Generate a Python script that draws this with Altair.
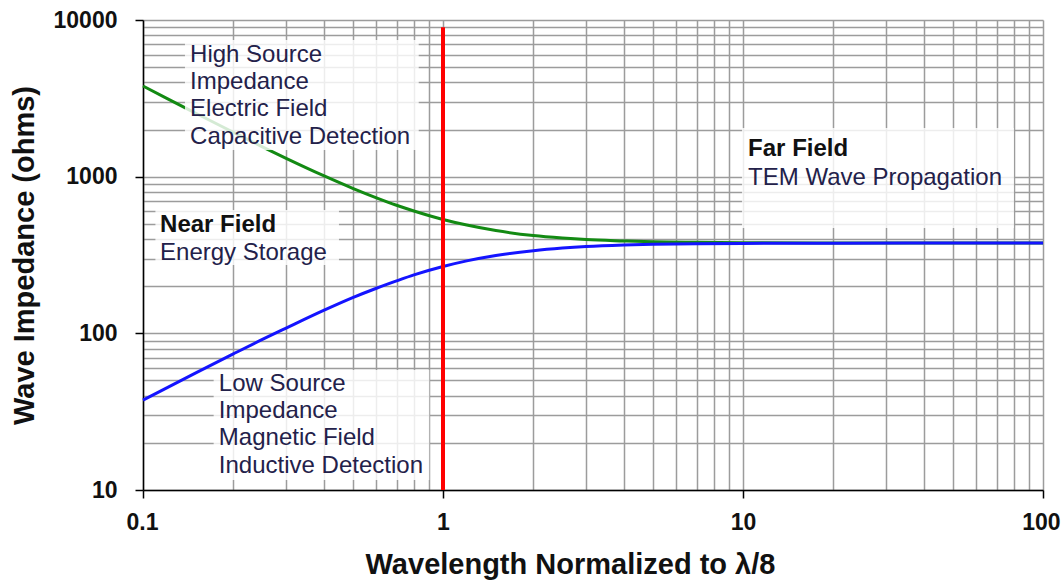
import altair as alt
import pandas as pd

# Normalized distance (wavelength / (lambda/8))
distance = [0.1, 0.12, 0.15, 0.2, 0.25, 0.3, 0.4, 0.5, 0.6, 0.7, 0.8, 1.0,
            1.2, 1.5, 2, 2.5, 3, 4, 5, 7, 10, 20, 50, 100]
# Wave impedance of an electric-field (high impedance) source, ohms
z_electric = [3790, 3160, 2540, 1920, 1550, 1310, 1015, 843, 733, 657, 604, 533,
              491, 453, 421, 406, 397, 389, 384, 381, 379, 377.5, 377, 377]
# Wave impedance of a magnetic-field (low impedance) source, ohms
z_magnetic = [37.5, 44.9, 55.9, 73.9, 91.4, 108, 140, 169, 194, 216, 236, 267,
              290, 314, 337, 350, 358, 366, 370, 373, 375, 376.5, 377, 377]

# Near-field / far-field boundary
boundary_x = [1.0]
boundary_low = [10]
boundary_high = [9000]

# Annotation blocks: one row per text line
label_x = [0.1435, 0.1435, 0.1435, 0.1435,
           0.114, 0.114,
           0.179, 0.179, 0.179, 0.179,
           10.4, 10.4]
label_y = [5980, 4020, 2700, 1790,
           491, 326,
           47.5, 31.9, 21.5, 14.2,
           1503, 979]
label_text = ["High Source", "Impedance", "Electric Field", "Capacitive Detection",
              "Near Field", "Energy Storage",
              "Low Source", "Impedance", "Magnetic Field", "Inductive Detection",
              "Far Field", "TEM Wave Propagation"]
label_bold = [False, False, False, False,
              True, False,
              False, False, False, False,
              True, False]

# Translucent backdrops behind the annotation blocks
box_x = [0.138, 0.110, 0.172, 9.92]
box_x2 = [0.83, 0.45, 0.9, 80]
box_y = [7450, 612, 58.4, 2047]
box_y2 = [1480, 273, 11.6, 470]

x_grid = [m * d for d in [0.1, 1, 10] for m in range(1, 10)] + [100]
y_grid = [m * d for d in [10, 100, 1000] for m in range(1, 10)] + [10000]

curves = pd.DataFrame({
    "distance": distance * 2,
    "impedance": z_electric + z_magnetic,
    "source": ["electric"] * len(distance) + ["magnetic"] * len(distance),
})
boundary = pd.DataFrame({"x": boundary_x, "y": boundary_low, "y2": boundary_high})
labels = pd.DataFrame({"x": label_x, "y": label_y, "text": label_text, "bold": label_bold})
boxes = pd.DataFrame({"x": box_x, "x2": box_x2, "y": box_y, "y2": box_y2})

FONT = "Liberation Sans"
major_test = "abs(round(log(datum.value)/LN10) - log(datum.value)/LN10) < 1e-6"

x_scale = alt.Scale(type="log", domain=[0.1, 100], nice=False)
y_scale = alt.Scale(type="log", domain=[10, 10000], nice=False)

x_axis = alt.Axis(
    values=x_grid, format="~g",
    labelExpr="indexof(['0.1','1','10','100'], datum.label) >= 0 ? datum.label : ''",
    tickOpacity={"condition": {"test": major_test, "value": 1}, "value": 0},
    labelFlush=True, labelFlushOffset=17, labelOverlap=False,
    titleX=427, titleAnchor="middle",
    title="Wavelength Normalized to λ/8",
)
y_axis = alt.Axis(
    values=y_grid, format="~g",
    labelExpr="indexof(['10','100','1000','10000'], datum.label) >= 0 ? datum.label : ''",
    tickOpacity={"condition": {"test": major_test, "value": 1}, "value": 0},
    labelFlush=False, labelOverlap=False,
    title="Wave Impedance (ohms)",
)

lines = alt.Chart(curves).mark_line(strokeWidth=3, interpolate="monotone").encode(
    x=alt.X("distance:Q", scale=x_scale, axis=x_axis),
    y=alt.Y("impedance:Q", scale=y_scale, axis=y_axis),
    color=alt.Color("source:N",
                    scale=alt.Scale(domain=["electric", "magnetic"],
                                    range=["#138a13", "#1414ff"]),
                    legend=None),
)

red = alt.Chart(boundary).mark_rule(color="#ff0000", strokeWidth=4).encode(
    x="x:Q", y="y:Q", y2="y2:Q",
)

backdrop = alt.Chart(boxes).mark_rect(color="white", opacity=0.82).encode(
    x="x:Q", x2="x2:Q", y="y:Q", y2="y2:Q",
)

text_regular = alt.Chart(labels).transform_filter("!datum.bold").mark_text(
    align="left", baseline="middle", font=FONT, fontSize=24, color="#23214a",
).encode(x="x:Q", y="y:Q", text="text:N")

text_bold = alt.Chart(labels).transform_filter("datum.bold").mark_text(
    align="left", baseline="middle", font=FONT, fontSize=24, fontWeight="bold",
    color="#111111",
).encode(x="x:Q", y="y:Q", text="text:N")

chart = alt.layer(lines, red, backdrop, text_regular, text_bold).properties(
    width=900, height=470,
    autosize=alt.AutoSizeParams(type="none"),
    padding={"left": 143, "top": 20, "right": 18, "bottom": 91},
    background="white",
).configure_view(stroke="transparent").configure_axis(
    grid=True, gridColor="#9c9c9c", gridWidth=1.5,
    domainColor="#000000", domainWidth=1.5,
    tickColor="#000000", tickSize=8, tickWidth=1.5,
    labelFont=FONT, labelFontSize=23, labelFontWeight="bold", labelColor="#111111",
    titleFont=FONT, titleFontSize=29, titleFontWeight="bold", titleColor="#111111",
).configure_axisX(
    labelPadding=13, titlePadding=16,
).configure_axisY(
    labelPadding=18, titlePadding=14,
)

chart.save("out.html", embed_options={"renderer": "svg", "actions": False})
